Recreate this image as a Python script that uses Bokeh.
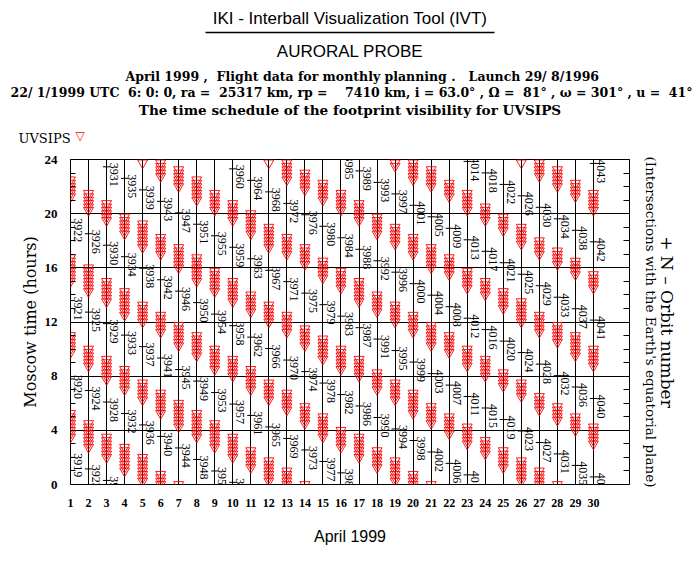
import numpy as np
from bokeh.plotting import figure
from bokeh.models import (ColumnDataSource, LabelSet, FixedTicker, Range1d,
                          LinearAxis, Title)
from bokeh.core.properties import value
from bokeh.embed import file_html
from bokeh.resources import INLINE

# ---------------- data ----------------
days = list(range(1, 31))
day_labels = [str(d) for d in days]
hour_ticks = [0, 4, 8, 12, 16, 20, 24]
hour_minor = list(range(0, 25))

# orbit equator crossings: orbit number, day, Moscow time (h)
orbit_num = [3919, 3920, 3921, 3922,
             3923, 3924, 3925, 3926,
             3927, 3928, 3929, 3930, 3931,
             3932, 3933, 3934, 3935,
             3936, 3937, 3938, 3939,
             3940, 3941, 3942, 3943,
             3944, 3945, 3946, 3947,
             3948, 3949, 3950, 3951,
             3952, 3953, 3954, 3955,
             3956, 3957, 3958, 3959, 3960,
             3961, 3962, 3963, 3964,
             3965, 3966, 3967, 3968,
             3969, 3970, 3971, 3972,
             3973, 3974, 3975, 3976,
             3977, 3978, 3979, 3980,
             3981, 3982, 3983, 3984, 3985,
             3986, 3987, 3988, 3989,
             3990, 3991, 3992, 3993,
             3994, 3995, 3996, 3997,
             3998, 3999, 4000, 4001,
             4002, 4003, 4004, 4005,
             4006, 4007, 4008, 4009,
             4010, 4011, 4012, 4013, 4014,
             4015, 4016, 4017, 4018,
             4019, 4020, 4021, 4022,
             4023, 4024, 4025, 4026,
             4027, 4028, 4029, 4030,
             4031, 4032, 4033, 4034,
             4035, 4036, 4037, 4038,
             4039, 4040, 4041, 4042, 4043]
orbit_day = [1, 1, 1, 1,
             2, 2, 2, 2,
             3, 3, 3, 3, 3,
             4, 4, 4, 4,
             5, 5, 5, 5,
             6, 6, 6, 6,
             7, 7, 7, 7,
             8, 8, 8, 8,
             9, 9, 9, 9,
             10, 10, 10, 10, 10,
             11, 11, 11, 11,
             12, 12, 12, 12,
             13, 13, 13, 13,
             14, 14, 14, 14,
             15, 15, 15, 15,
             16, 16, 16, 16, 16,
             17, 17, 17, 17,
             18, 18, 18, 18,
             19, 19, 19, 19,
             20, 20, 20, 20,
             21, 21, 21, 21,
             22, 22, 22, 22,
             23, 23, 23, 23, 23,
             24, 24, 24, 24,
             25, 25, 25, 25,
             26, 26, 26, 26,
             27, 27, 27, 27,
             28, 28, 28, 28,
             29, 29, 29, 29,
             30, 30, 30, 30, 30]
orbit_hour = [2.00, 7.79, 13.58, 19.36,
              1.15, 6.94, 12.73, 18.52,
              0.30, 6.09, 11.88, 17.67, 23.46,
              5.24, 11.03, 16.82, 22.61,
              4.40, 10.18, 15.97, 21.76,
              3.55, 9.34, 15.12, 20.91,
              2.70, 8.49, 14.28, 20.06,
              1.85, 7.64, 13.43, 19.22,
              1.00, 6.79, 12.58, 18.37,
              0.16, 5.94, 11.73, 17.52, 23.31,
              5.10, 10.88, 16.67, 22.46,
              4.25, 10.04, 15.82, 21.61,
              3.40, 9.19, 14.98, 20.76,
              2.55, 8.34, 14.13, 19.92,
              1.70, 7.49, 13.28, 19.07,
              0.86, 6.64, 12.43, 18.22, 24.00,
              5.80, 11.58, 17.37, 23.16,
              4.95, 10.74, 16.52, 22.31,
              4.10, 9.89, 15.68, 21.46,
              3.25, 9.04, 14.83, 20.62,
              2.40, 8.19, 13.98, 19.77,
              1.56, 7.34, 13.13, 18.92,
              0.71, 6.50, 12.28, 18.07, 23.86,
              5.65, 11.44, 17.22, 23.01,
              4.80, 10.59, 16.38, 22.16,
              3.95, 9.74, 15.53, 21.32,
              3.10, 8.89, 14.68, 20.47,
              2.26, 8.04, 13.83, 19.62,
              1.41, 7.20, 12.98, 18.77,
              0.56, 6.35, 12.14, 17.92, 23.71]

# footprint visibility windows of UVSIPS: day, start (h), end (h)
win_day = [1, 1, 1, 1,
           2, 2, 2, 2,
           3, 3, 3, 3,
           4, 4, 4, 4,
           5, 5, 5, 5, 5,
           6, 6, 6, 6, 6,
           7, 7, 7, 7, 7,
           8, 8, 8, 8,
           9, 9, 9, 9,
           10, 10, 10, 10,
           11, 11, 11, 11,
           12, 12, 12, 12, 12,
           13, 13, 13, 13, 13,
           14, 14, 14, 14, 14,
           15, 15, 15, 15,
           16, 16, 16, 16,
           17, 17, 17, 17,
           18, 18, 18, 18,
           19, 19, 19, 19, 19,
           20, 20, 20, 20, 20,
           21, 21, 21, 21, 21,
           22, 22, 22, 22,
           23, 23, 23, 23,
           24, 24, 24, 24,
           25, 25, 25, 25,
           26, 26, 26, 26, 26,
           27, 27, 27, 27, 27,
           28, 28, 28, 28, 28,
           29, 29, 29, 29,
           30, 30, 30, 30]
win_start = [3.5, 9.75, 15.0, 21.25,
             2.75, 8.75, 14.25, 20.25,
             2.0, 7.75, 13.5, 19.5,
             1.0, 7.0, 12.5, 18.5,
             0.25, 6.25, 12.0, 17.5, 23.75,
             0.0, 5.25, 11.25, 17.0, 22.75,
             0.0, 4.25, 10.25, 16.0, 22.0,
             3.5, 9.5, 15.0, 21.0,
             2.75, 8.5, 14.25, 20.25,
             2.0, 8.0, 13.5, 19.5,
             1.25, 7.0, 12.75, 18.5,
             0.25, 6.25, 12.0, 17.5, 23.75,
             0.0, 5.5, 11.25, 17.0, 22.5,
             0.0, 4.5, 10.25, 16.25, 21.75,
             3.5, 9.25, 15.25, 21.0,
             2.75, 8.5, 14.5, 20.25,
             2.0, 8.0, 13.5, 19.5,
             1.25, 7.0, 12.75, 18.5,
             0.25, 6.25, 12.0, 17.75, 23.5,
             0.0, 5.25, 11.25, 17.0, 22.5,
             0.0, 4.5, 10.25, 16.0, 22.0,
             3.75, 9.75, 15.5, 21.25,
             3.0, 8.75, 14.5, 20.25,
             2.25, 8.0, 14.0, 19.5,
             1.25, 7.25, 13.0, 18.75,
             0.25, 6.5, 12.0, 17.75, 23.75,
             0.0, 5.5, 11.25, 17.0, 22.75,
             0.0, 4.75, 10.5, 16.25, 22.0,
             4.0, 9.5, 15.5, 21.25,
             3.0, 8.75, 14.5, 20.25]
win_end = [5.25, 11.0, 16.75, 22.5,
           4.5, 10.0, 16.0, 21.5,
           3.5, 9.25, 15.0, 20.75,
           2.75, 8.5, 14.25, 19.75,
           2.0, 7.5, 13.25, 19.25, 23.75,
           0.75, 6.75, 12.5, 18.25, 23.75,
           0.0, 6.0, 11.75, 17.5, 23.25,
           5.25, 11.0, 16.75, 22.5,
           4.5, 10.0, 15.75, 21.5,
           3.5, 9.25, 15.0, 20.75,
           2.5, 8.5, 14.0, 20.0,
           1.75, 7.5, 13.25, 19.0, 23.75,
           1.0, 6.75, 12.5, 18.25, 23.75,
           0.0, 5.75, 11.5, 17.5, 23.0,
           5.0, 10.75, 16.5, 22.25,
           4.0, 10.0, 15.75, 21.5,
           3.5, 9.25, 15.0, 20.75,
           2.5, 8.25, 14.0, 19.75,
           1.75, 7.5, 13.25, 19.0, 23.75,
           0.75, 6.75, 12.5, 18.25, 23.75,
           0.0, 5.75, 11.75, 17.5, 23.25,
           5.0, 11.0, 16.75, 22.25,
           4.25, 10.0, 15.75, 21.5,
           3.25, 9.25, 15.0, 20.5,
           2.5, 8.25, 14.25, 19.75,
           1.75, 7.5, 13.5, 19.0, 23.75,
           1.0, 6.5, 12.5, 18.0, 23.75,
           0.0, 5.75, 11.75, 17.25, 23.25,
           5.0, 11.0, 16.5, 22.25,
           4.25, 10.0, 15.5, 21.5]

# ---------------- layout ----------------
W, H = 700, 570
FL, FT = 70, 159                      # frame left / top (px)
FR, FB = W - 629, H - 484             # frame right / bottom borders (px)
FW = W - FL - FR
X0, X1, Y0, Y1 = 1, 32, 0, 24
SERIF = "Liberation Serif"
DSERIF = "DejaVu Serif"
SANS = "Liberation Sans"


def dx(px):   # canvas x pixel -> day coordinate
    return X0 + (px - FL) * (X1 - X0) / FW


p = figure(width=W, height=H, x_range=Range1d(X0, X1), y_range=Range1d(Y0, Y1),
           output_backend="svg", toolbar_location=None, title=None,
           min_border_left=FL, min_border_right=FR,
           min_border_top=FT, min_border_bottom=FB)
p.outline_line_color = "black"
p.outline_line_width = 1
p.background_fill_color = "white"
p.border_fill_color = "white"

# x axis: days
p.xaxis.ticker = FixedTicker(ticks=days)
p.xaxis.major_label_overrides = {d: s for d, s in zip(days, day_labels)}
p.xaxis.major_tick_in = 0
p.xaxis.major_tick_out = 0
p.xaxis.minor_tick_line_color = None
p.xaxis.axis_line_color = None
p.xaxis.major_label_standoff = 14
p.xaxis.major_label_text_font = SERIF
p.xaxis.major_label_text_font_size = "12px"
p.xaxis.major_label_text_font_style = "bold"
p.xaxis.major_label_text_color = "black"
p.xaxis.axis_label = "April 1999"
p.xaxis.axis_label_text_font = SANS
p.xaxis.axis_label_text_font_size = "16px"
p.xaxis.axis_label_text_font_style = "normal"
p.xaxis.axis_label_text_color = "black"
p.xaxis.axis_label_standoff = 18

# y axis: hours, with hourly minor ticks inside
p.yaxis.ticker = FixedTicker(ticks=hour_ticks, minor_ticks=hour_minor)
p.yaxis.major_tick_in = 0
p.yaxis.major_tick_out = 0
p.yaxis.minor_tick_in = 5
p.yaxis.minor_tick_out = 0
p.yaxis.minor_tick_line_color = "black"
p.yaxis.axis_line_color = None
p.yaxis.major_label_standoff = 13
p.yaxis.major_label_text_font = SERIF
p.yaxis.major_label_text_font_size = "13px"
p.yaxis.major_label_text_font_style = "bold"
p.yaxis.major_label_text_color = "black"
p.yaxis.axis_label = "Moscow time (hours)"
p.yaxis.axis_label_text_font = DSERIF
p.yaxis.axis_label_text_font_size = "16px"
p.yaxis.axis_label_text_font_style = "normal"
p.yaxis.axis_label_text_color = "black"
p.yaxis.axis_label_standoff = 2

# right side: hourly ticks inside, then the two-line title
ry = LinearAxis(ticker=FixedTicker(ticks=[], minor_ticks=hour_minor),
                major_tick_in=0, major_tick_out=0, minor_tick_in=6, minor_tick_out=0,
                axis_line_color=None, major_label_standoff=0,
                minor_tick_line_color="black")
p.add_layout(ry, "right")


def right_title(txt, size, standoff):
    ax = LinearAxis(ticker=FixedTicker(ticks=[]), bounds=(0, 22.7),
                    major_tick_in=0, major_tick_out=0, minor_tick_in=0,
                    minor_tick_out=0, axis_line_color=None,
                    major_tick_line_color=None, minor_tick_line_color=None,
                    major_label_standoff=0, axis_label=txt,
                    axis_label_text_font=DSERIF, axis_label_text_font_size=f"{size}px",
                    axis_label_text_font_style="normal", axis_label_text_color="black",
                    axis_label_standoff=standoff)
    p.add_layout(ax, "right")


right_title("(Intersections with the Earth's equatorial plane)", 13.5, 13)
right_title("+ N \u2013 Orbit number", 17, -5)

# grid: every day, every 4 hours
p.xgrid.ticker = FixedTicker(ticks=days)
p.ygrid.ticker = FixedTicker(ticks=hour_ticks)
for g in (p.xgrid, p.ygrid):
    g.grid_line_color = "black"
    g.grid_line_width = 1
    g.grid_line_alpha = 1.0

# visibility triangles, one every 15 minutes within each window
tx, ty = [], []
for d, s, e in zip(win_day, win_start, win_end):
    for h in np.arange(s, e + 1e-6, 0.25):
        tx.append(d)
        ty.append(float(h))
p.scatter(tx, ty, marker="inverted_triangle", size=10, line_color="red",
          fill_color=None, line_width=0.9)

# orbit crossing ticks + labels
ox = np.array(orbit_day, dtype=float)
oy = np.array(orbit_hour, dtype=float)
p.segment(x0=ox - 0.2, y0=oy, x1=ox + 0.22, y1=oy, line_color="black", line_width=1)
lab_src = ColumnDataSource(dict(x=ox + 0.2, y=oy + 0.3,
                                t=[str(n) for n in orbit_num]))
p.add_layout(LabelSet(x="x", y="y", text="t", source=lab_src, angle=-np.pi / 2,
                      text_align="left", text_baseline="alphabetic",
                      text_font=value(SERIF), text_font_size="12px",
                      text_color="black"))


# ---------------- header, stacked upward from the frame ----------------
def head(txt, size, standoff, font=DSERIF, align="center", offset=0,
         style="bold", valign="middle", color="black"):
    p.add_layout(Title(text=txt, align=align, offset=offset, standoff=standoff,
                       vertical_align=valign, text_font=font,
                       text_font_size=f"{size}px", text_font_style=style,
                       text_color=color), "above")


head("UVSIPS", 13, 26, align="left", offset=-52, style="normal")
head("The time schedule of the footprint visibility for UVSIPS", 13.6, -4)
head("22/ 1/1999 UTC\u00a0 6: 0: 0, ra =\u00a0 25317 km, rp =\u00a0\u00a0\u00a0 7410 km, "
     "i = 63.0\u00b0 , \u03a9 =\u00a0 81\u00b0 , \u03c9 = 301\u00b0 , u =\u00a0 41\u00b0",
     12.5, 4, align="left", offset=-60)
head("April 1999 ,\u00a0 Flight data for monthly planning .\u00a0\u00a0 Launch 29/ 8/1996",
     12.5, -6, align="left", offset=55)
head("AURORAL PROBE", 17, 17, font=SANS, style="normal")

ul = LinearAxis(ticker=FixedTicker(ticks=[]), bounds=(dx(205), dx(494)),
                major_tick_in=0, major_tick_out=0, minor_tick_in=0, minor_tick_out=0,
                major_tick_line_color=None, minor_tick_line_color=None,
                major_label_standoff=0, axis_line_color="black", axis_line_width=1.5,
                axis_label="IKI - Interball Visualization Tool (IVT)",
                axis_label_text_font=SANS, axis_label_text_font_size="17px",
                axis_label_text_font_style="normal", axis_label_text_color="black",
                axis_label_standoff=5)
p.add_layout(ul, "above")

# legend marker of UVSIPS (outermost, pulled down next to its name)
head("\u25bd", 12, -274, font="DejaVu Sans", align="left", offset=5,
     style="normal", valign="bottom", color="red")

open("out.html", "w").write(file_html(p, INLINE))
